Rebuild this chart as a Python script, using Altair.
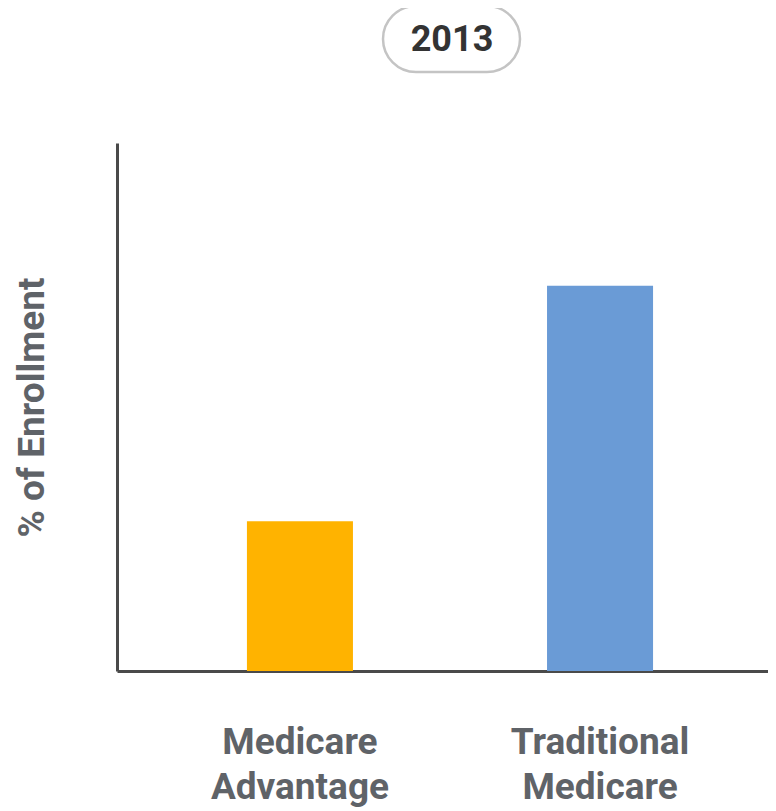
import altair as alt
import pandas as pd

YEAR = "2013"
categories = ["Medicare Advantage", "Traditional Medicare"]
values = [28, 72]
colors = ["#FFB300", "#6A9BD6"]

df = pd.DataFrame({"plan": categories, "share": values})

W, H = 651, 528
GREY = "#5f6368"

bars = alt.Chart(df).mark_bar().encode(
    x=alt.X(
        "plan:N",
        sort=categories,
        scale=alt.Scale(paddingInner=0.6467, paddingOuter=0.408, align=0.5306),
        axis=alt.Axis(
            title=None,
            ticks=False,
            labelAngle=0,
            labelExpr="split(datum.label, ' ')",
            labelFont="Roboto",
            labelFontWeight="bold",
            labelFontSize=37,
            labelColor=GREY,
            labelLineHeight=45,
            labelBaseline="alphabetic",
            labelPadding=82,
            domainColor="#4a4a4a",
            domainWidth=3,
        ),
    ),
    y=alt.Y(
        "share:Q",
        scale=alt.Scale(domain=[0, 98.7], nice=False),
        axis=alt.Axis(
            title="% of Enrollment",
            labels=False,
            ticks=False,
            grid=False,
            titleFont="Roboto",
            titleFontWeight="bold",
            titleFontSize=37,
            titleColor=GREY,
            titleAngle=270,
            titleX=-85,
            titleY=H / 2,
            titleAlign="center",
            titleBaseline="middle",
            domainColor="#4a4a4a",
            domainWidth=3,
        ),
    ),
    color=alt.Color("plan:N", scale=alt.Scale(domain=categories, range=colors), legend=None),
)

pill = alt.Chart(pd.DataFrame({"t": [YEAR]})).mark_rect(
    fill="white", stroke="#c4c4c4", strokeWidth=2.5, cornerRadius=33
).encode(
    x=alt.value(383 - 117), x2=alt.value(520 - 117),
    y=alt.value(6 - 143), y2=alt.value(72 - 143),
)

label = alt.Chart(pd.DataFrame({"t": [YEAR]})).mark_text(
    font="Roboto", fontWeight="bold", fontSize=36, color="#333333",
    align="center", baseline="middle",
).encode(
    text="t:N",
    x=alt.value(452 - 117), y=alt.value(40 - 143),
)

chart = alt.layer(bars, pill, label).properties(
    width=W, height=H,
    autosize=alt.AutoSizeParams(type="none"),
    padding={"left": 109, "top": 135, "right": 0, "bottom": 137},
).configure_view(stroke=None)

chart.save("out.html", embed_options={"renderer": "svg", "actions": False})
